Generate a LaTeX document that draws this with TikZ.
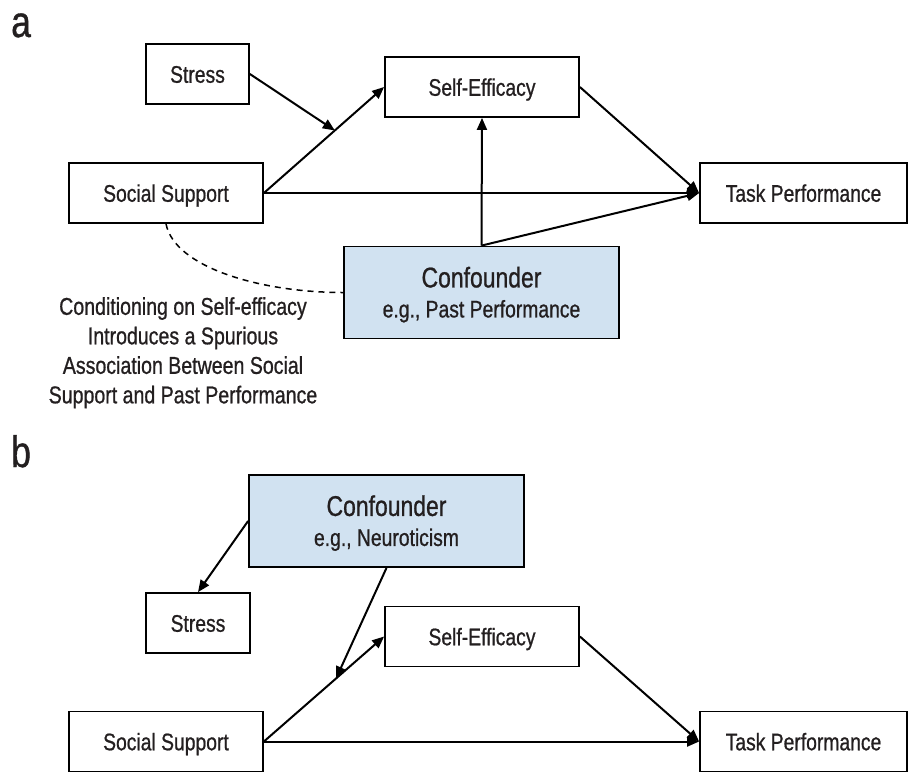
\documentclass[tikz,border=0pt]{standalone}
\usepackage{fontspec}
\setmainfont{Liberation Sans}[FakeStretch=0.805,FakeBold=0.8]
\usetikzlibrary{arrows.meta,calc}
\definecolor{confblue}{RGB}{209,226,241}
\definecolor{ink}{RGB}{35,31,32}

\begin{document}
\begin{tikzpicture}[x=1pt,y=-1pt,
  box/.style={draw=black,line width=1.8pt,minimum height=60pt,inner sep=0pt,
    text height=17.5pt,text depth=0pt,text=ink,font=\fontsize{24}{28}\selectfont},
  confbox/.style={draw=black,line width=1.8pt,fill=confblue,minimum width=275pt,
    minimum height=92pt,inner sep=0pt,align=center,text=ink,
    font=\fontsize{24}{30}\selectfont},
  link/.style={line width=2pt,-{Triangle[length=12pt,width=10pt]}},
  panel/.style={anchor=base west,inner sep=0pt,text=ink,font=\fontsize{44}{44}\selectfont}
]
\useasboundingbox (0,0) rectangle (909,772);

% ---- panel a ----
\node[panel] (la) at (11,37) {a};
\node[box,minimum width=103pt] (st) at (197.5,74) {Stress};
\node[box,minimum width=194pt] (se) at (482,87) {Self-Efficacy};
\node[box,minimum width=194pt] (ss) at (166,193) {Social Support};
\node[box,minimum width=207pt] (tp) at (803.5,193) {Task Performance};
\node[confbox] (ca) at (481.5,292.5)
  {{\fontsize{28.5}{30}\selectfont\rule{0pt}{24.8pt}Confounder}\\e.g., Past Performance};

\coordinate (ma) at ($(ss.east)!0.59!(se.west)$);
\draw[link] (ss.east) -- (se.west);
\draw[link] (st.east) -- (ma);
\draw[link] (ss.east) -- (tp.west);
\draw[link] (se.east) -- (tp.west);
\draw[link] (ca.north) -- (se.south);
\draw[link] (ca.north) -- (tp.west);
\draw[line width=1.5pt,dash pattern=on 6pt off 5pt]
  (ss.south) .. controls (175,268) and (262,292.5) .. (ca.west);

\node[anchor=north,inner sep=0pt,align=center,text=ink,
      font=\fontsize{24.3}{29.5}\selectfont] (note) at (183,297)
  {Conditioning on Self-efficacy\\Introduces a Spurious\\Association Between Social\\Support and Past Performance};

% ---- panel b ----
\node[panel] (lb) at (11,467) {b};
\node[confbox] (cb) at (386.5,521)
  {{\fontsize{28.5}{30}\selectfont\rule{0pt}{24.8pt}Confounder}\\e.g., Neuroticism};
\node[box,minimum width=104pt] (sb) at (198,623) {Stress};
\node[box,minimum width=194pt] (eb) at (482,636.5) {Self-Efficacy};
\node[box,minimum width=194pt] (pb) at (166,741.5) {Social Support};
\node[box,minimum width=207pt] (tb) at (803.5,741.5) {Task Performance};

\coordinate (mb) at ($(pb.east)!0.6!(eb.west)$);
\draw[link] (pb.east) -- (eb.west);
\draw[link] (cb.west) -- (sb.north);
\draw[link] (cb.south) -- (mb);
\draw[link] (pb.east) -- (tb.west);
\draw[link] (eb.east) -- (tb.west);
\end{tikzpicture}
\end{document}
